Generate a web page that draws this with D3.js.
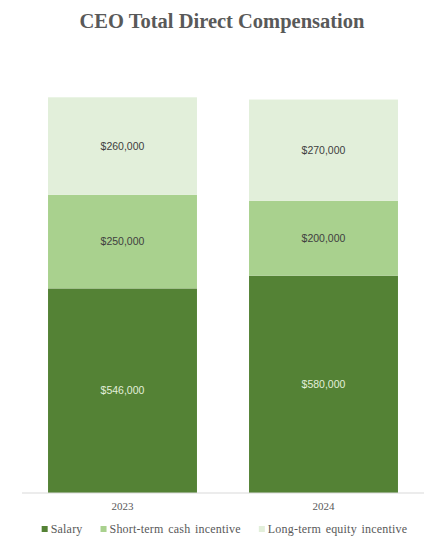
<!DOCTYPE html>
<html lang="en">
<head>
  <meta charset="UTF-8">
  <title>CEO Total Direct Compensation</title>
  <script src="https://d3js.org/d3.v7.min.js"></script>
  <style>
    body { margin: 0; background: #fff; }
    .title { font: bold 20.5px "Liberation Serif", "Times New Roman", serif; fill: #595959; }
    .tick-label { font: 11px "Liberation Serif", serif; fill: #595959; }
    .legend text { font: 12px "Liberation Serif", serif; fill: #595959; letter-spacing: 0.2px; word-spacing: 1.5px; }
    .value { font: 10.5px "Liberation Sans", sans-serif; }
  </style>
</head>
<body>
<svg width="446" height="547"></svg>
<script>
  const years = ["2023", "2024"];
  const seriesNames = ["Salary", "Short-term cash incentive", "Long-term equity incentive"];
  const salary = [546000, 580000];
  const shortTerm = [250000, 200000];
  const longTerm = [260000, 270000];

  const colors = ["#548235", "#a9d18e", "#e2efda"];
  const labelColors = ["#e2efda", "#404040", "#404040"];

  const rows = years.map((y, i) => ({
    year: y,
    "Salary": salary[i],
    "Short-term cash incentive": shortTerm[i],
    "Long-term equity incentive": longTerm[i]
  }));

  const stacked = d3.stack().keys(seriesNames)(rows);

  const svg = d3.select("svg");

  const x = d3.scaleBand()
    .domain(years)
    .range([22, 424])
    .paddingInner(0.259)
    .paddingOuter(0.1295);

  const y = d3.scaleLinear()
    .domain([0, 1056000])
    .range([493, 97.3]);

  svg.append("text")
    .attr("class", "title")
    .attr("x", 222)
    .attr("y", 28)
    .attr("text-anchor", "middle")
    .text("CEO Total Direct Compensation");

  const fmt = d3.format("$,");

  const layer = svg.append("g")
    .selectAll("g")
    .data(stacked)
    .join("g")
    .attr("fill", (d, i) => colors[i]);

  layer.selectAll("rect")
    .data(d => d)
    .join("rect")
    .attr("x", d => x(d.data.year))
    .attr("width", x.bandwidth())
    .attr("y", d => y(d[1]))
    .attr("height", d => y(d[0]) - y(d[1]));

  layer.selectAll("text")
    .data((d, i) => d.map(v => ({ v, i })))
    .join("text")
    .attr("class", "value")
    .attr("x", d => x(d.v.data.year) + x.bandwidth() / 2)
    .attr("y", d => (y(d.v[0]) + y(d.v[1])) / 2)
    .attr("dy", "0.35em")
    .attr("text-anchor", "middle")
    .attr("fill", d => labelColors[d.i])
    .text(d => fmt(d.v[1] - d.v[0]));

  // category axis
  const axis = svg.append("g").attr("transform", "translate(0,493)");
  axis.append("line")
    .attr("x1", 22).attr("x2", 424)
    .attr("stroke", "#d9d9d9").attr("stroke-width", 1);
  axis.selectAll("text")
    .data(years)
    .join("text")
    .attr("class", "tick-label")
    .attr("x", d => x(d) + x.bandwidth() / 2)
    .attr("y", 17)
    .attr("text-anchor", "middle")
    .text(d => d);

  // legend
  const legend = svg.append("g").attr("class", "legend");
  const items = legend.selectAll("g")
    .data(seriesNames)
    .join("g");
  items.append("rect")
    .attr("width", 6).attr("height", 6)
    .attr("y", -7)
    .attr("fill", (d, i) => colors[i]);
  items.append("text")
    .attr("x", 9)
    .attr("y", 0)
    .text(d => d);

  let cx = 0;
  items.each(function() {
    const g = d3.select(this);
    g.attr("transform", `translate(${cx},0)`);
    cx += 9 + g.select("text").node().getComputedTextLength() + 18;
  });
  const total = cx - 18;
  legend.attr("transform", `translate(${224.5 - total / 2},533)`);
</script>
</body>
</html>
